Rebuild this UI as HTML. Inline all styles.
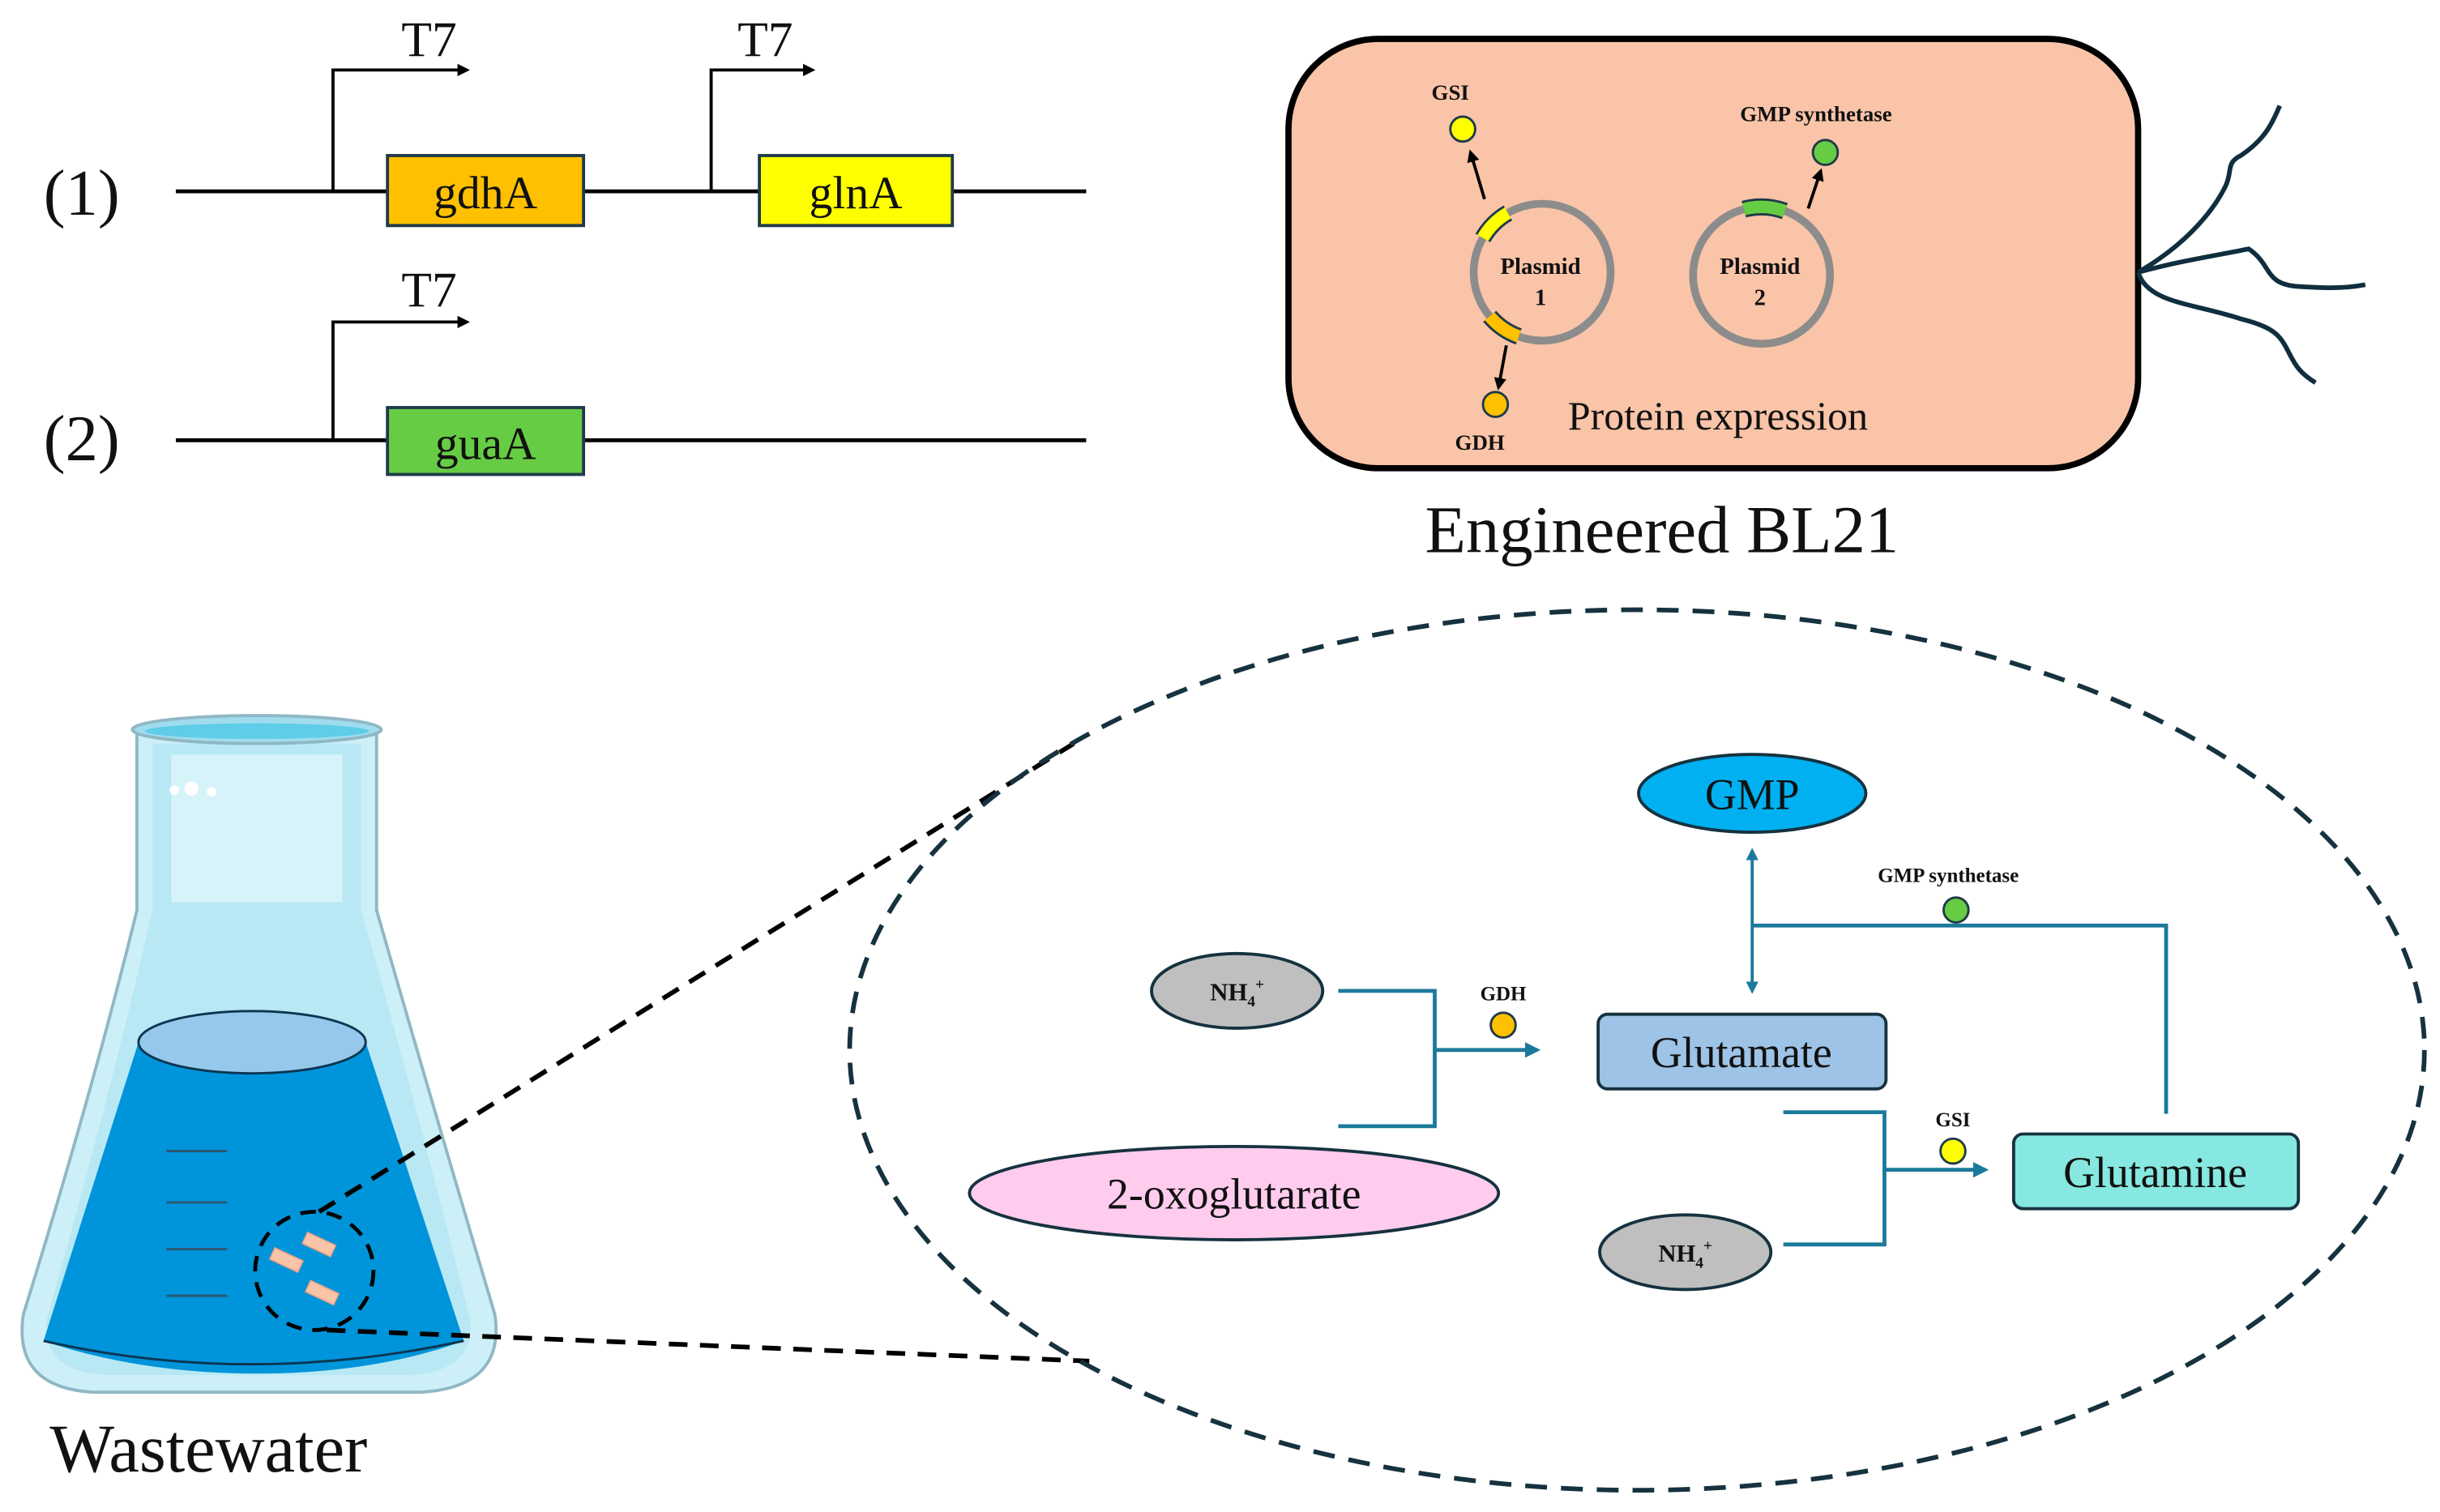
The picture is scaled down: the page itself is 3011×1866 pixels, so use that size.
<!DOCTYPE html>
<html><head><meta charset="utf-8"><style>
html,body{margin:0;padding:0;background:#fff;width:3011px;height:1866px;overflow:hidden}
svg{display:block}
text{font-family:"Liberation Serif",serif;fill:#111}
.b{font-weight:bold}
</style></head><body>
<svg width="3011" height="1866" viewBox="0 0 1568 972" preserveAspectRatio="none" xmlns="http://www.w3.org/2000/svg">
<defs>
<marker id="ak" markerWidth="8" markerHeight="8" refX="6" refY="4" orient="auto" markerUnits="userSpaceOnUse"><path d="M0,0 L8,4 L0,8 Z" fill="#000"/></marker>
<marker id="at" markerWidth="10" markerHeight="10" refX="8" refY="5" orient="auto" markerUnits="userSpaceOnUse"><path d="M0,0 L10,5 L0,10 Z" fill="#1b7a9c"/></marker>
<marker id="as" markerWidth="8" markerHeight="8" refX="6" refY="4" orient="auto" markerUnits="userSpaceOnUse"><path d="M0,0 L8,4 L0,8 Z" fill="#1b7a9c"/></marker>
</defs>

<!-- Constructs -->
<text x="28" y="138" font-size="42">(1)</text>
<text x="28" y="296" font-size="42">(2)</text>
<line x1="113" y1="123" x2="698" y2="123" stroke="#000" stroke-width="2.5"/>
<line x1="113" y1="283" x2="698" y2="283" stroke="#000" stroke-width="2.5"/>
<polyline points="214,123 214,45 300,45" fill="none" stroke="#000" stroke-width="2" marker-end="url(#ak)"/>
<polyline points="457,123 457,45 522,45" fill="none" stroke="#000" stroke-width="2" marker-end="url(#ak)"/>
<polyline points="214,283 214,207 300,207" fill="none" stroke="#000" stroke-width="2" marker-end="url(#ak)"/>
<text x="258" y="36" font-size="32">T7</text>
<text x="474" y="36" font-size="32">T7</text>
<text x="258" y="197" font-size="32">T7</text>
<rect x="249" y="100" width="126" height="45" fill="#FFC000" stroke="#1f3a4a" stroke-width="2"/>
<text x="312" y="134" font-size="30" text-anchor="middle">gdhA</text>
<rect x="488" y="100" width="124" height="45" fill="#FFFF00" stroke="#1f3a4a" stroke-width="2"/>
<text x="550" y="134" font-size="30" text-anchor="middle">glnA</text>
<rect x="249" y="262" width="126" height="43" fill="#66CC44" stroke="#1f3a4a" stroke-width="2"/>
<text x="312" y="295" font-size="30" text-anchor="middle">guaA</text>

<!-- Cell -->
<rect x="828" y="25" width="546" height="276" rx="58" fill="#F9C4A8" stroke="#000" stroke-width="4"/>
<path d="M1374,175 C1400,160 1420,140 1430,120 C1435,110 1430,105 1440,100 C1455,90 1460,80 1465,68" fill="none" stroke="#0f2e3e" stroke-width="3"/>
<path d="M1374,175 C1400,168 1420,165 1445,160 C1460,170 1455,182 1475,184 C1490,185 1505,186 1520,183" fill="none" stroke="#0f2e3e" stroke-width="3"/>
<path d="M1374,175 C1380,195 1410,195 1440,205 C1460,210 1465,215 1470,225 C1475,235 1478,240 1488,246" fill="none" stroke="#0f2e3e" stroke-width="3"/>
<circle cx="991" cy="175" r="44" fill="none" stroke="#8c8c8c" stroke-width="5"/>
<circle cx="1132" cy="177" r="44" fill="none" stroke="#8c8c8c" stroke-width="5"/>
<path d="M952.9,153 A44,44 0 0 1 969,136.9" fill="none" stroke="#1f3a4a" stroke-width="11"/>
<path d="M952.9,153 A44,44 0 0 1 969,136.9" fill="none" stroke="#FFFF00" stroke-width="8"/>
<path d="M957.3,203.3 A44,44 0 0 0 976,216.3" fill="none" stroke="#1f3a4a" stroke-width="11"/>
<path d="M957.3,203.3 A44,44 0 0 0 976,216.3" fill="none" stroke="#FFC000" stroke-width="8"/>
<path d="M1120.6,134.5 A44,44 0 0 1 1147,135.7" fill="none" stroke="#1f3a4a" stroke-width="11"/>
<path d="M1120.6,134.5 A44,44 0 0 1 1147,135.7" fill="none" stroke="#66CC44" stroke-width="8"/>
<line x1="954" y1="128" x2="945" y2="98" stroke="#000" stroke-width="2" marker-end="url(#ak)"/>
<line x1="968" y1="222" x2="963" y2="249" stroke="#000" stroke-width="2" marker-end="url(#ak)"/>
<line x1="1162" y1="134" x2="1170" y2="110" stroke="#000" stroke-width="2" marker-end="url(#ak)"/>
<circle cx="940" cy="83" r="8" fill="#FFFF00" stroke="#1f3a4a" stroke-width="1.5"/>
<circle cx="961" cy="260" r="8" fill="#FFC000" stroke="#1f3a4a" stroke-width="1.5"/>
<circle cx="1173" cy="98" r="8" fill="#66CC44" stroke="#1f3a4a" stroke-width="1.5"/>
<text x="932" y="64" font-size="14" class="b" text-anchor="middle">GSI</text>
<text x="951" y="289" font-size="14" class="b" text-anchor="middle">GDH</text>
<text x="1167" y="78" font-size="14" class="b" text-anchor="middle">GMP synthetase</text>
<text x="990" y="176" font-size="15" class="b" text-anchor="middle">Plasmid</text>
<text x="990" y="196" font-size="15" class="b" text-anchor="middle">1</text>
<text x="1131" y="176" font-size="15" class="b" text-anchor="middle">Plasmid</text>
<text x="1131" y="196" font-size="15" class="b" text-anchor="middle">2</text>
<text x="1104" y="276" font-size="26" text-anchor="middle">Protein expression</text>
<text x="1068" y="355" font-size="43" text-anchor="middle">Engineered BL21</text>

<!-- Flask -->
<path d="M88,472 L88,585 Q60,700 15,845 Q8,892 60,895 L270,895 Q325,892 318,845 Q275,700 242,585 L242,472 Z" fill="#CDEFF7" stroke="#8fb8c4" stroke-width="2"/>
<path d="M98,478 L98,585 Q72,700 30,848 Q26,882 70,884 L262,884 Q306,882 302,848 Q265,700 232,585 L232,478 Z" fill="#B3E6F3" opacity="0.8"/>
<rect x="110" y="485" width="110" height="95" fill="#D6F3FA"/>
<ellipse cx="165" cy="469" rx="80" ry="9" fill="#9fdcee" stroke="#8fb8c4" stroke-width="2"/>
<ellipse cx="165" cy="470" rx="72" ry="5" fill="#5fcde8"/>
<circle cx="112" cy="508" r="3" fill="#fff"/><circle cx="123" cy="507" r="4.5" fill="#fff"/><circle cx="136" cy="509" r="3" fill="#fff"/>
<path d="M89,670 L28,862 Q90,883 165,883 Q240,883 298,862 L235,670 Z" fill="#0094DA"/>
<path d="M28,862 Q160,892 298,862" fill="none" stroke="#0c3550" stroke-width="1.5"/>
<ellipse cx="162" cy="670" rx="73" ry="20" fill="#96C8EC" stroke="#0c3550" stroke-width="1.5"/>
<g stroke="#2b5770" stroke-width="1.5">
<line x1="107" y1="740" x2="146" y2="740"/><line x1="107" y1="773" x2="146" y2="773"/><line x1="107" y1="803" x2="146" y2="803"/><line x1="107" y1="833" x2="146" y2="833"/></g>
<g fill="#F9C4A8" stroke="#e8a080" stroke-width="0.8">
<rect x="195" y="796" width="20" height="8" transform="rotate(25 205 800)"/>
<rect x="174" y="806" width="20" height="8" transform="rotate(25 184 810)"/>
<rect x="197" y="827" width="20" height="8" transform="rotate(25 207 831)"/></g>
<circle cx="202" cy="817" r="38" fill="none" stroke="#000" stroke-width="2.5" stroke-dasharray="10,7"/>
<line x1="205" y1="779" x2="690" y2="478" stroke="#000" stroke-width="3" stroke-dasharray="12,8"/>
<line x1="210" y1="855" x2="700" y2="875" stroke="#000" stroke-width="3" stroke-dasharray="12,8"/>
<text x="134" y="946" font-size="44" text-anchor="middle">Wastewater</text>

<!-- Big dashed ellipse -->
<ellipse cx="1052" cy="675" rx="506" ry="283" fill="none" stroke="#16323f" stroke-width="3" stroke-dasharray="14,9"/>

<!-- Pathway -->
<ellipse cx="1126" cy="510" rx="73" ry="25" fill="#00B0F0" stroke="#16323f" stroke-width="2"/>
<text x="1126" y="520" font-size="28" text-anchor="middle">GMP</text>
<line x1="1126" y1="592" x2="1126" y2="547" stroke="#1b7a9c" stroke-width="2" marker-end="url(#as)"/>
<line x1="1126" y1="592" x2="1126" y2="637" stroke="#1b7a9c" stroke-width="2" marker-end="url(#as)"/>
<polyline points="1126,595 1392,595 1392,716" fill="none" stroke="#1b7a9c" stroke-width="2.5"/>
<circle cx="1257" cy="585" r="8" fill="#66CC44" stroke="#1f3a4a" stroke-width="1.5"/>
<text x="1252" y="567" font-size="13" class="b" text-anchor="middle">GMP synthetase</text>

<ellipse cx="795" cy="637" rx="55" ry="24" fill="#BFBFBF" stroke="#16323f" stroke-width="2"/>
<text x="795" y="643" font-size="16" class="b" text-anchor="middle">NH<tspan font-size="10" dy="4">4</tspan><tspan font-size="10" dy="-11">+</tspan></text>
<polyline points="860,637 922,637 922,724 860,724" fill="none" stroke="#1b7a9c" stroke-width="2.5"/>
<line x1="922" y1="675" x2="988" y2="675" stroke="#1b7a9c" stroke-width="2.5" marker-end="url(#at)"/>
<circle cx="966" cy="659" r="8" fill="#FFC000" stroke="#1f3a4a" stroke-width="1.5"/>
<text x="966" y="643" font-size="13" class="b" text-anchor="middle">GDH</text>

<rect x="1027" y="652" width="185" height="48" rx="6" fill="#9DC3E6" stroke="#16323f" stroke-width="2"/>
<text x="1119" y="686" font-size="28" text-anchor="middle">Glutamate</text>

<ellipse cx="793" cy="767" rx="170" ry="30" fill="#FFCCEE" stroke="#16323f" stroke-width="2"/>
<text x="793" y="777" font-size="28" text-anchor="middle">2-oxoglutarate</text>

<polyline points="1146,715 1211,715 1211,800 1146,800" fill="none" stroke="#1b7a9c" stroke-width="2.5"/>
<line x1="1211" y1="752" x2="1276" y2="752" stroke="#1b7a9c" stroke-width="2.5" marker-end="url(#at)"/>
<circle cx="1255" cy="740" r="8" fill="#FFFF00" stroke="#1f3a4a" stroke-width="1.5"/>
<text x="1255" y="724" font-size="13" class="b" text-anchor="middle">GSI</text>

<rect x="1294" y="729" width="183" height="48" rx="6" fill="#86E8E0" stroke="#16323f" stroke-width="2"/>
<text x="1385" y="763" font-size="28" text-anchor="middle">Glutamine</text>

<ellipse cx="1083" cy="805" rx="55" ry="24" fill="#BFBFBF" stroke="#16323f" stroke-width="2"/>
<text x="1083" y="811" font-size="16" class="b" text-anchor="middle">NH<tspan font-size="10" dy="4">4</tspan><tspan font-size="10" dy="-11">+</tspan></text>
</svg>
</body></html>
